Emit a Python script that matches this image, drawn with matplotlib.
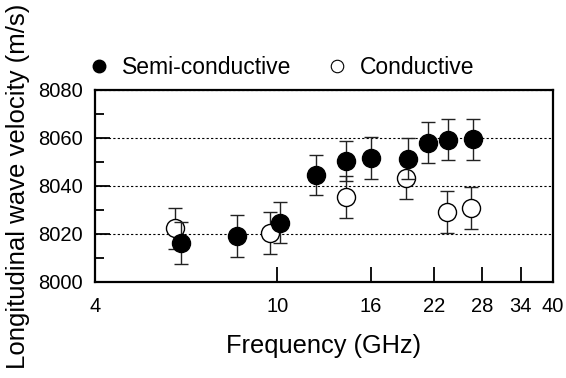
import matplotlib
matplotlib.use('Agg')
import matplotlib.pyplot as plt
from matplotlib.ticker import FixedLocator, NullLocator, MultipleLocator
from matplotlib.lines import Line2D

plt.rcParams['font.family'] = ['Liberation Sans', 'DejaVu Sans']

# semi-conductive (filled)
semi_freq = [6.17, 8.16, 10.15, 12.14, 14.14, 16.04, 19.25, 21.3, 23.6, 26.7]
semi_vel = [8016.4, 8019.2, 8024.7, 8044.6, 8050.4, 8051.8, 8051.4, 8058.0, 8059.2, 8059.5]
semi_err = [8.7, 8.6, 8.5, 8.5, 8.5, 8.7, 8.6, 8.5, 8.5, 8.6]

# conductive (open)
cond_freq = [5.98, 9.65, 14.14, 19.1, 23.5, 26.5]
cond_vel = [8022.4, 8020.3, 8035.3, 8043.2, 8029.0, 8030.7]
cond_err = [8.5, 8.7, 8.7, 8.6, 8.7, 8.7]

x_ticks = [4, 10, 16, 22, 28, 34, 40]

fig = plt.figure(figsize=(5.66, 3.78), dpi=100)
ax = fig.add_axes([0.168, 0.254, 0.809, 0.508])

ax.errorbar(cond_freq, cond_vel, yerr=cond_err, fmt='o', ms=13, mfc='white', mec='black',
            mew=1.0, ecolor='#222222', elinewidth=1.0, capsize=5, capthick=1.0, zorder=3)
ax.errorbar(semi_freq, semi_vel, yerr=semi_err, fmt='o', ms=13, mfc='black', mec='black',
            ecolor='#222222', elinewidth=1.0, capsize=5, capthick=1.0, zorder=4)

ax.set_xscale('log')
ax.set_xlim(4, 40)
ax.xaxis.set_major_locator(FixedLocator(x_ticks))
ax.xaxis.set_minor_locator(NullLocator())
ax.set_xticklabels([str(t) for t in x_ticks])

ax.set_ylim(8000, 8080)
ax.yaxis.set_major_locator(MultipleLocator(20))
ax.yaxis.set_minor_locator(MultipleLocator(10))
ax.yaxis.grid(True, which='major', color='black', linestyle=(0, (2, 2)), linewidth=0.8, zorder=1)
ax.set_axisbelow(True)

ax.tick_params(axis='both', which='major', direction='in', length=11, width=1.3,
               labelsize=14.5, top=False, right=False)
ax.tick_params(axis='x', pad=10.5)
ax.tick_params(axis='y', pad=9)
ax.tick_params(axis='y', which='minor', direction='in', length=6.5, width=1.3, right=False)
for s in ax.spines.values():
    s.set_linewidth(1.6)

ax.set_xlabel('Frequency (GHz)', fontsize=18.3, labelpad=13)
ax.set_ylabel('Longitudinal wave velocity (m/s)', fontsize=18.5, labelpad=6)

handles = [
    Line2D([], [], marker='o', linestyle='none', ms=9, mfc='black', mec='black'),
    Line2D([], [], marker='o', linestyle='none', ms=9, mfc='white', mec='black', mew=0.8),
]
fig.legend(handles, ['Semi-conductive', 'Conductive'], loc='center left',
           bbox_to_anchor=(90 / 566, 310 / 378), ncol=2, frameon=False, fontsize=16.5,
           handlelength=0.8, handletextpad=0.6, columnspacing=1.6, borderpad=0,
           borderaxespad=0)

fig.savefig('out.png', dpi=100)
